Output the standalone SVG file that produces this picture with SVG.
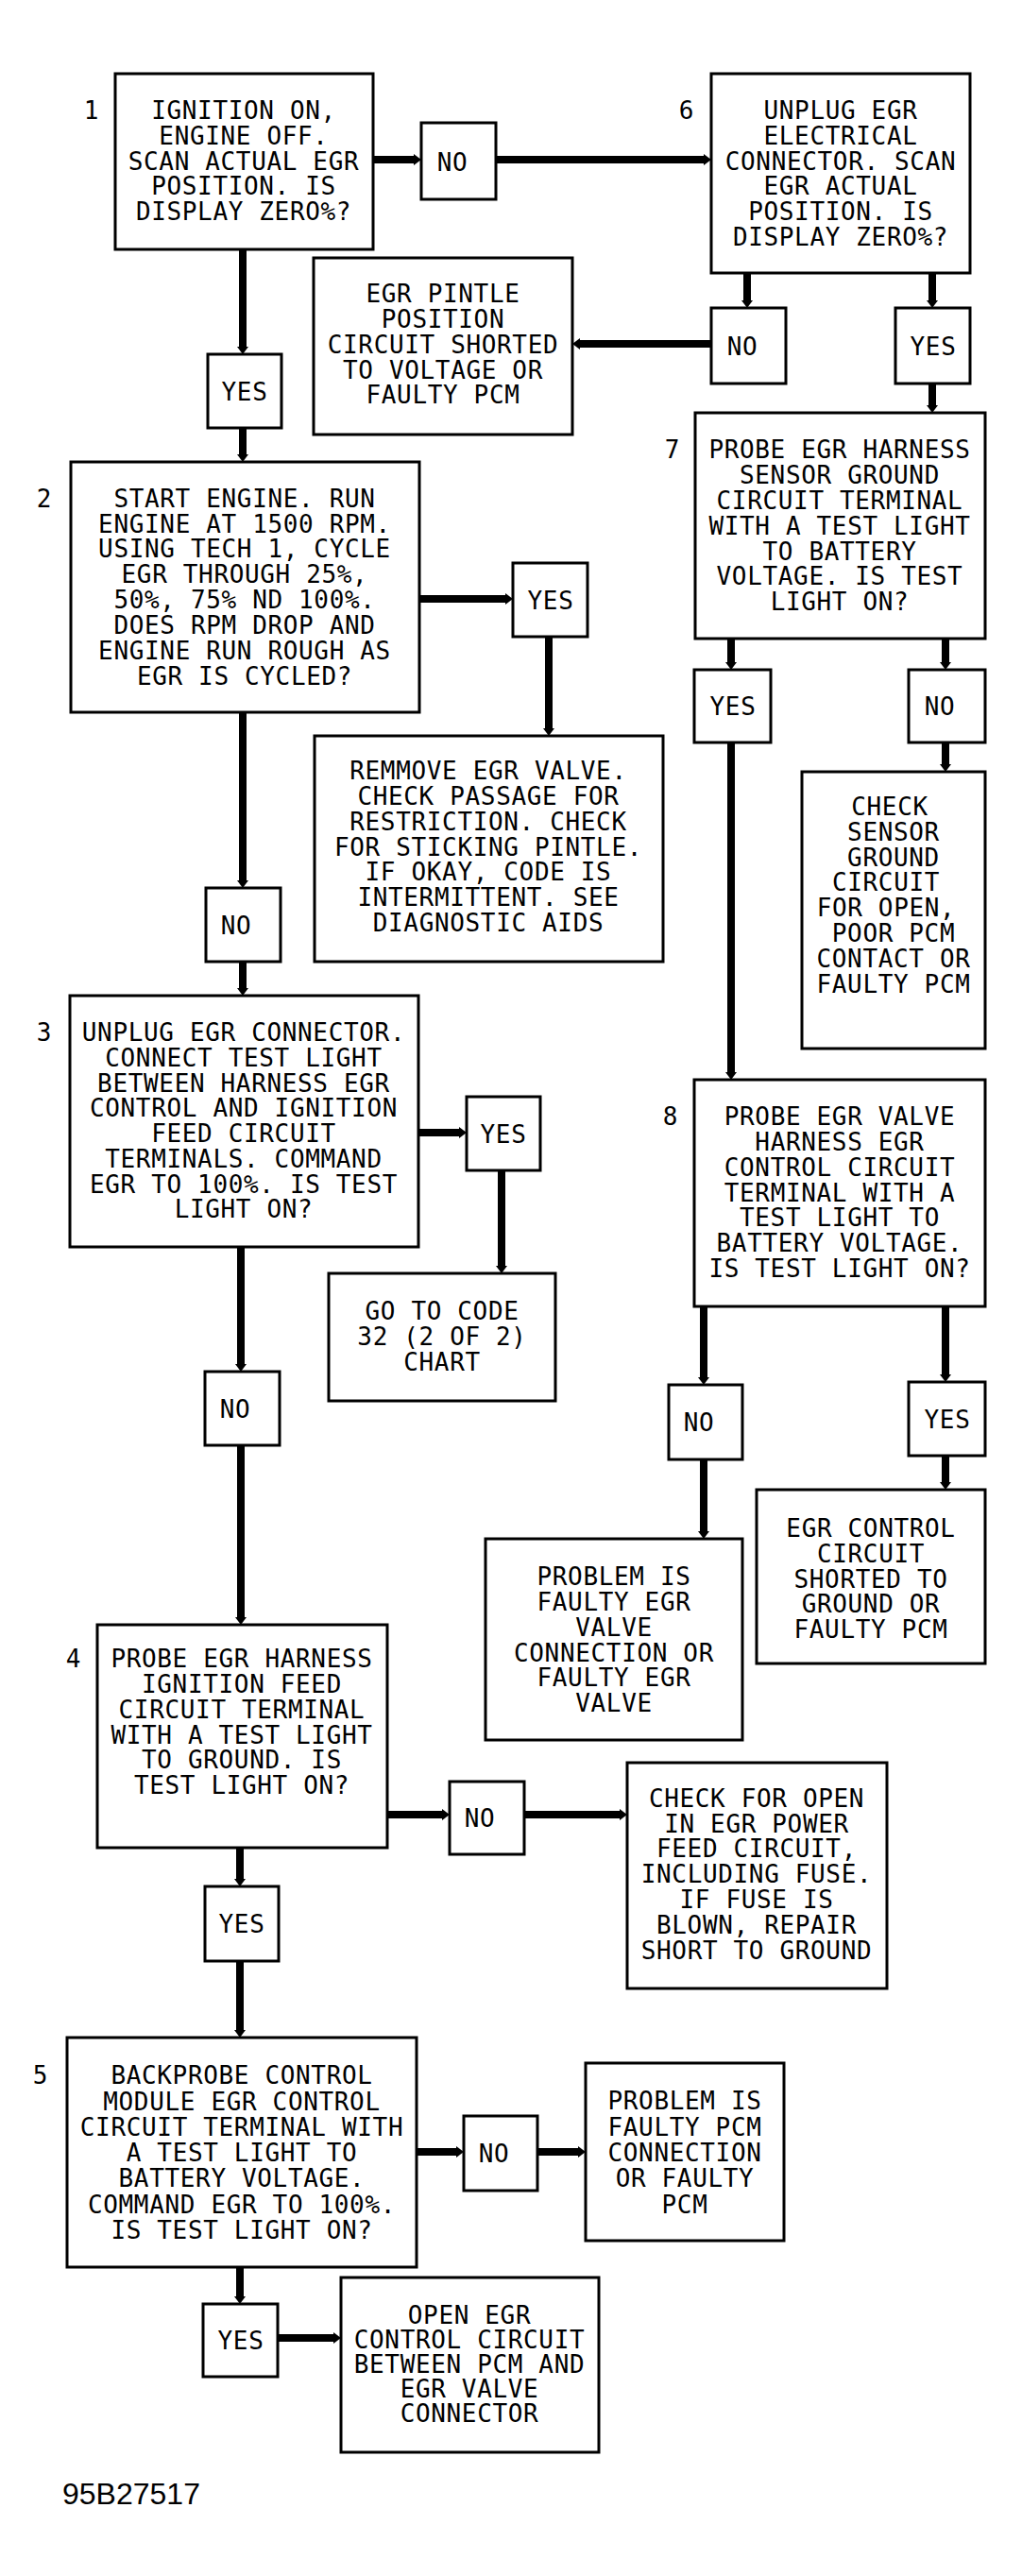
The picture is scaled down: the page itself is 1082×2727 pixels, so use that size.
<svg xmlns="http://www.w3.org/2000/svg" width="1082" height="2727" viewBox="0 0 1082 2727">
<style>
.b{fill:#fff;stroke:#000;stroke-width:3}
.t{font-family:"DejaVu Sans Mono","Liberation Mono",monospace;font-size:26px;letter-spacing:0.65px;text-anchor:middle;fill:#000}
.c{stroke:#000;stroke-width:8;fill:none;marker-end:url(#ah)}
.id{font-family:"Liberation Sans",Arial,sans-serif;font-size:32px;fill:#000}
</style>
<defs>
<marker id="ah" markerUnits="userSpaceOnUse" markerWidth="8" markerHeight="12" viewBox="0 -6 8 12" refX="0" refY="0" orient="auto"><path d="M0,-6 L8,0 L0,6 z" fill="#000"/></marker>
</defs>
<rect width="1082" height="2727" fill="#fff"/>
<g id="connectors">
<path class="c" d="M395,169 H438"/>
<path class="c" d="M525,169 H745"/>
<path class="c" d="M257,264 V367"/>
<path class="c" d="M257,453 V481"/>
<path class="c" d="M791,289 V318"/>
<path class="c" d="M987,289 V318"/>
<path class="c" d="M753,364 H614"/>
<path class="c" d="M987,406 V429"/>
<path class="c" d="M444,634 H535"/>
<path class="c" d="M581,674 V771"/>
<path class="c" d="M774,676 V701"/>
<path class="c" d="M1001,676 V701"/>
<path class="c" d="M1001,786 V809"/>
<path class="c" d="M774,786 V1135"/>
<path class="c" d="M257,754 V932"/>
<path class="c" d="M257,1018 V1046"/>
<path class="c" d="M443,1199 H486"/>
<path class="c" d="M531,1239 V1340"/>
<path class="c" d="M255,1320 V1444"/>
<path class="c" d="M255,1530 V1712"/>
<path class="c" d="M745,1383 V1458"/>
<path class="c" d="M745,1545 V1621"/>
<path class="c" d="M1001,1383 V1455"/>
<path class="c" d="M1001,1541 V1569"/>
<path class="c" d="M410,1921 H468"/>
<path class="c" d="M555,1921 H656"/>
<path class="c" d="M254,1956 V1989"/>
<path class="c" d="M254,2076 V2149"/>
<path class="c" d="M441,2278 H483"/>
<path class="c" d="M569,2278 H612"/>
<path class="c" d="M254,2400 V2431"/>
<path class="c" d="M294,2475 H353"/>
</g>
<g id="n1">
<rect class="b" x="122" y="78" width="273" height="186"/>
<text class="t" x="97" y="126">1</text>
<text class="t"><tspan x="258" y="126">IGNITION ON,</tspan><tspan x="258" y="153">ENGINE OFF.</tspan><tspan x="258" y="180">SCAN ACTUAL EGR</tspan><tspan x="258" y="206">POSITION. IS</tspan><tspan x="258" y="233">DISPLAY ZERO%?</tspan></text>
</g>
<g id="no1">
<rect class="b" x="446" y="130" width="79" height="81"/>
<text class="t" x="479" y="181">NO</text>
</g>
<g id="n6">
<rect class="b" x="753" y="78" width="274" height="211"/>
<text class="t" x="727" y="126">6</text>
<text class="t"><tspan x="890" y="126">UNPLUG EGR</tspan><tspan x="890" y="153">ELECTRICAL</tspan><tspan x="890" y="180">CONNECTOR. SCAN</tspan><tspan x="890" y="206">EGR ACTUAL</tspan><tspan x="890" y="233">POSITION. IS</tspan><tspan x="890" y="260">DISPLAY ZERO%?</tspan></text>
</g>
<g id="yes1">
<rect class="b" x="220" y="375" width="78" height="78"/>
<text class="t" x="259" y="424">YES</text>
</g>
<g id="pintle">
<rect class="b" x="332" y="273" width="274" height="187"/>
<text class="t"><tspan x="469" y="320">EGR PINTLE</tspan><tspan x="469" y="347">POSITION</tspan><tspan x="469" y="374">CIRCUIT SHORTED</tspan><tspan x="469" y="401">TO VOLTAGE OR</tspan><tspan x="469" y="427">FAULTY PCM</tspan></text>
</g>
<g id="no6">
<rect class="b" x="753" y="326" width="79" height="80"/>
<text class="t" x="786" y="376">NO</text>
</g>
<g id="yes6">
<rect class="b" x="948" y="326" width="79" height="80"/>
<text class="t" x="988" y="376">YES</text>
</g>
<g id="n2">
<rect class="b" x="75" y="489" width="369" height="265"/>
<text class="t" x="47" y="537">2</text>
<text class="t"><tspan x="259" y="537">START ENGINE. RUN</tspan><tspan x="259" y="564">ENGINE AT 1500 RPM.</tspan><tspan x="259" y="590">USING TECH 1, CYCLE</tspan><tspan x="259" y="617">EGR THROUGH 25%,</tspan><tspan x="259" y="644">50%, 75% ND 100%.</tspan><tspan x="259" y="671">DOES RPM DROP AND</tspan><tspan x="259" y="698">ENGINE RUN ROUGH AS</tspan><tspan x="259" y="725">EGR IS CYCLED?</tspan></text>
</g>
<g id="n7">
<rect class="b" x="736" y="437" width="307" height="239"/>
<text class="t" x="712" y="485">7</text>
<text class="t"><tspan x="889" y="485">PROBE EGR HARNESS</tspan><tspan x="889" y="512">SENSOR GROUND</tspan><tspan x="889" y="539">CIRCUIT TERMINAL</tspan><tspan x="889" y="566">WITH A TEST LIGHT</tspan><tspan x="889" y="593">TO BATTERY</tspan><tspan x="889" y="619">VOLTAGE. IS TEST</tspan><tspan x="889" y="646">LIGHT ON?</tspan></text>
</g>
<g id="yes2">
<rect class="b" x="543" y="596" width="79" height="78"/>
<text class="t" x="583" y="645">YES</text>
</g>
<g id="yes7">
<rect class="b" x="735" y="709" width="81" height="77"/>
<text class="t" x="776" y="757">YES</text>
</g>
<g id="no7">
<rect class="b" x="962" y="709" width="81" height="77"/>
<text class="t" x="995" y="757">NO</text>
</g>
<g id="remove">
<rect class="b" x="333" y="779" width="369" height="239"/>
<text class="t"><tspan x="517" y="825">REMMOVE EGR VALVE.</tspan><tspan x="517" y="852">CHECK PASSAGE FOR</tspan><tspan x="517" y="879">RESTRICTION. CHECK</tspan><tspan x="517" y="906">FOR STICKING PINTLE.</tspan><tspan x="517" y="932">IF OKAY, CODE IS</tspan><tspan x="517" y="959">INTERMITTENT. SEE</tspan><tspan x="517" y="986">DIAGNOSTIC AIDS</tspan></text>
</g>
<g id="sensor">
<rect class="b" x="849" y="817" width="194" height="293"/>
<text class="t"><tspan x="942" y="863">CHECK</tspan><tspan x="946" y="890">SENSOR</tspan><tspan x="946" y="917">GROUND</tspan><tspan x="938" y="943">CIRCUIT</tspan><tspan x="938" y="970">FOR OPEN,</tspan><tspan x="946" y="997">POOR PCM</tspan><tspan x="946" y="1024">CONTACT OR</tspan><tspan x="946" y="1051">FAULTY PCM</tspan></text>
</g>
<g id="no2">
<rect class="b" x="218" y="940" width="79" height="78"/>
<text class="t" x="250" y="989">NO</text>
</g>
<g id="n3">
<rect class="b" x="74" y="1054" width="369" height="266"/>
<text class="t" x="47" y="1102">3</text>
<text class="t"><tspan x="258" y="1102">UNPLUG EGR CONNECTOR.</tspan><tspan x="258" y="1129">CONNECT TEST LIGHT</tspan><tspan x="258" y="1156">BETWEEN HARNESS EGR</tspan><tspan x="258" y="1182">CONTROL AND IGNITION</tspan><tspan x="258" y="1209">FEED CIRCUIT</tspan><tspan x="258" y="1236">TERMINALS. COMMAND</tspan><tspan x="258" y="1263">EGR TO 100%. IS TEST</tspan><tspan x="258" y="1289">LIGHT ON?</tspan></text>
</g>
<g id="yes3">
<rect class="b" x="494" y="1161" width="78" height="78"/>
<text class="t" x="533" y="1210">YES</text>
</g>
<g id="goto">
<rect class="b" x="348" y="1348" width="240" height="135"/>
<text class="t"><tspan x="468" y="1397">GO TO CODE</tspan><tspan x="468" y="1424">32 (2 OF 2)</tspan><tspan x="468" y="1451">CHART</tspan></text>
</g>
<g id="n8">
<rect class="b" x="735" y="1143" width="308" height="240"/>
<text class="t" x="710" y="1191">8</text>
<text class="t"><tspan x="889" y="1191">PROBE EGR VALVE</tspan><tspan x="889" y="1218">HARNESS EGR</tspan><tspan x="889" y="1245">CONTROL CIRCUIT</tspan><tspan x="889" y="1272">TERMINAL WITH A</tspan><tspan x="889" y="1298">TEST LIGHT TO</tspan><tspan x="889" y="1325">BATTERY VOLTAGE.</tspan><tspan x="889" y="1352">IS TEST LIGHT ON?</tspan></text>
</g>
<g id="no3">
<rect class="b" x="217" y="1452" width="79" height="78"/>
<text class="t" x="249" y="1501">NO</text>
</g>
<g id="no8">
<rect class="b" x="708" y="1466" width="78" height="79"/>
<text class="t" x="740" y="1515">NO</text>
</g>
<g id="yes8">
<rect class="b" x="962" y="1463" width="81" height="78"/>
<text class="t" x="1003" y="1512">YES</text>
</g>
<g id="probegr">
<rect class="b" x="514" y="1629" width="272" height="213"/>
<text class="t"><tspan x="650" y="1678">PROBLEM IS</tspan><tspan x="650" y="1705">FAULTY EGR</tspan><tspan x="650" y="1732">VALVE</tspan><tspan x="650" y="1759">CONNECTION OR</tspan><tspan x="650" y="1785">FAULTY EGR</tspan><tspan x="650" y="1812">VALVE</tspan></text>
</g>
<g id="egrctl">
<rect class="b" x="801" y="1577" width="242" height="184"/>
<text class="t"><tspan x="922" y="1627">EGR CONTROL</tspan><tspan x="922" y="1654">CIRCUIT</tspan><tspan x="922" y="1681">SHORTED TO</tspan><tspan x="922" y="1707">GROUND OR</tspan><tspan x="922" y="1734">FAULTY PCM</tspan></text>
</g>
<g id="n4">
<rect class="b" x="103" y="1720" width="307" height="236"/>
<text class="t" x="78" y="1765">4</text>
<text class="t"><tspan x="256" y="1765">PROBE EGR HARNESS</tspan><tspan x="256" y="1792">IGNITION FEED</tspan><tspan x="256" y="1819">CIRCUIT TERMINAL</tspan><tspan x="256" y="1846">WITH A TEST LIGHT</tspan><tspan x="256" y="1872">TO GROUND. IS</tspan><tspan x="256" y="1899">TEST LIGHT ON?</tspan></text>
</g>
<g id="no4">
<rect class="b" x="476" y="1886" width="79" height="77"/>
<text class="t" x="508" y="1934">NO</text>
</g>
<g id="chkopen">
<rect class="b" x="664" y="1866" width="275" height="239"/>
<text class="t"><tspan x="801" y="1913">CHECK FOR OPEN</tspan><tspan x="801" y="1940">IN EGR POWER</tspan><tspan x="801" y="1966">FEED CIRCUIT,</tspan><tspan x="801" y="1993">INCLUDING FUSE.</tspan><tspan x="801" y="2020">IF FUSE IS</tspan><tspan x="801" y="2047">BLOWN, REPAIR</tspan><tspan x="801" y="2074">SHORT TO GROUND</tspan></text>
</g>
<g id="yes4">
<rect class="b" x="217" y="1997" width="78" height="79"/>
<text class="t" x="256" y="2046">YES</text>
</g>
<g id="n5">
<rect class="b" x="71" y="2157" width="370" height="243"/>
<text class="t" x="43" y="2206">5</text>
<text class="t"><tspan x="256" y="2206">BACKPROBE CONTROL</tspan><tspan x="256" y="2234">MODULE EGR CONTROL</tspan><tspan x="256" y="2261">CIRCUIT TERMINAL WITH</tspan><tspan x="256" y="2288">A TEST LIGHT TO</tspan><tspan x="256" y="2315">BATTERY VOLTAGE.</tspan><tspan x="256" y="2343">COMMAND EGR TO 100%.</tspan><tspan x="256" y="2370">IS TEST LIGHT ON?</tspan></text>
</g>
<g id="no5">
<rect class="b" x="491" y="2240" width="78" height="79"/>
<text class="t" x="523" y="2289">NO</text>
</g>
<g id="probpcm">
<rect class="b" x="620" y="2184" width="210" height="188"/>
<text class="t"><tspan x="725" y="2233">PROBLEM IS</tspan><tspan x="725" y="2261">FAULTY PCM</tspan><tspan x="725" y="2288">CONNECTION</tspan><tspan x="725" y="2315">OR FAULTY</tspan><tspan x="725" y="2343">PCM</tspan></text>
</g>
<g id="yes5">
<rect class="b" x="215" y="2439" width="79" height="77"/>
<text class="t" x="255" y="2487">YES</text>
</g>
<g id="openegr">
<rect class="b" x="361" y="2411" width="273" height="185"/>
<text class="t"><tspan x="497" y="2460">OPEN EGR</tspan><tspan x="497" y="2486">CONTROL CIRCUIT</tspan><tspan x="497" y="2512">BETWEEN PCM AND</tspan><tspan x="497" y="2538">EGR VALVE</tspan><tspan x="497" y="2564">CONNECTOR</tspan></text>
</g>
<text class="id" x="66" y="2651">95B27517</text>
</svg>
